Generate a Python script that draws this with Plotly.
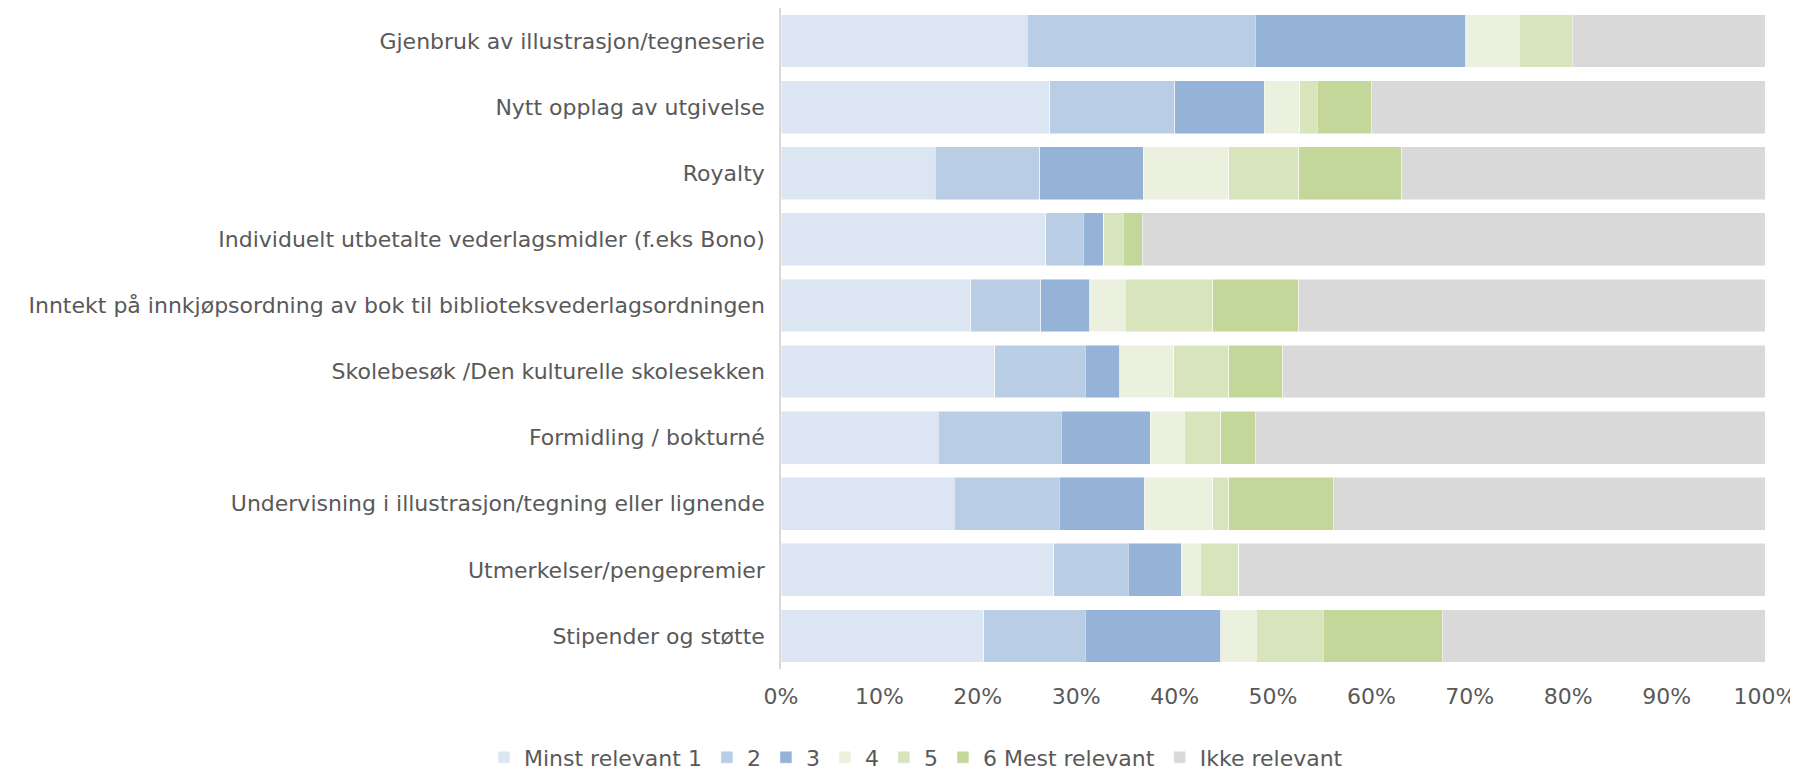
import plotly.graph_objects as go

categories = [
    "Gjenbruk av illustrasjon/tegneserie",
    "Nytt opplag av utgivelse",
    "Royalty",
    "Individuelt utbetalte vederlagsmidler (f.eks Bono)",
    "Inntekt på innkjøpsordning av bok til biblioteksvederlagsordningen",
    "Skolebesøk /Den kulturelle skolesekken",
    "Formidling / bokturné",
    "Undervisning i illustrasjon/tegning eller lignende",
    "Utmerkelser/pengepremier",
    "Stipender og støtte",
]

minst_1 = [25.0, 27.3, 15.7, 26.9, 19.3, 21.7, 16.0, 17.6, 27.7, 20.6]
val_2 = [23.2, 12.7, 10.6, 3.8, 7.1, 9.2, 12.5, 10.7, 7.6, 10.3]
val_3 = [21.4, 9.1, 10.5, 2.1, 5.0, 3.5, 9.0, 8.6, 5.4, 13.8]
val_4 = [5.4, 3.6, 8.7, 0.0, 3.6, 5.5, 3.5, 7.0, 1.9, 3.6]
val_5 = [5.4, 1.8, 7.1, 2.0, 8.9, 5.6, 3.7, 1.6, 3.9, 6.8]
mest_6 = [0.0, 5.5, 10.5, 1.9, 8.7, 5.5, 3.5, 10.6, 0.0, 12.1]
ikke = [19.6, 40.0, 36.9, 63.3, 47.4, 49.0, 51.8, 43.9, 53.5, 32.8]

series_names = ["Minst relevant 1", "2", "3", "4", "5", "6 Mest relevant", "Ikke relevant"]
series_values = [minst_1, val_2, val_3, val_4, val_5, mest_6, ikke]
colors = ["#DCE6F2", "#B9CDE5", "#95B3D7", "#EBF1DE", "#D8E4BC", "#C4D79B", "#D9D9D9"]

FONT = "DejaVu Sans"
TEXT = "#595959"

fig = go.Figure()
for name, vals, col in zip(series_names, series_values, colors):
    fig.add_trace(
        go.Bar(
            y=categories,
            x=vals,
            name=name,
            orientation="h",
            marker=dict(color=col, line=dict(color="rgba(255,255,255,0.6)", width=0.8)),
            hovertemplate="%{y}: %{x:.1f}%<extra>" + name + "</extra>",
        )
    )

fig.update_layout(
    width=1798,
    height=771,
    barmode="stack",
    bargap=0.2,
    plot_bgcolor="white",
    paper_bgcolor="white",
    margin=dict(l=773, r=41, t=0, b=110),
    font=dict(family=FONT, size=22, color=TEXT),
    legend=dict(
        orientation="h",
        xref="container",
        yref="container",
        x=0.505,
        xanchor="center",
        y=0.028,
        yanchor="middle",
        traceorder="normal",
        font=dict(family=FONT, size=22, color=TEXT),
        itemwidth=30,
    ),
)
fig.update_xaxes(
    range=[0, 100],
    dtick=10,
    ticksuffix="%",
    showgrid=False,
    zeroline=False,
    showline=False,
    ticklabelstandoff=12,
    tickfont=dict(family=FONT, size=22, color=TEXT),
)
fig.update_yaxes(
    autorange="reversed",
    showgrid=False,
    showline=True,
    linecolor="#D9D9D9",
    linewidth=1.5,
    ticks="",
    ticklabelstandoff=10,
    tickfont=dict(family=FONT, size=22, color=TEXT),
)

fig.write_html("out.html")
